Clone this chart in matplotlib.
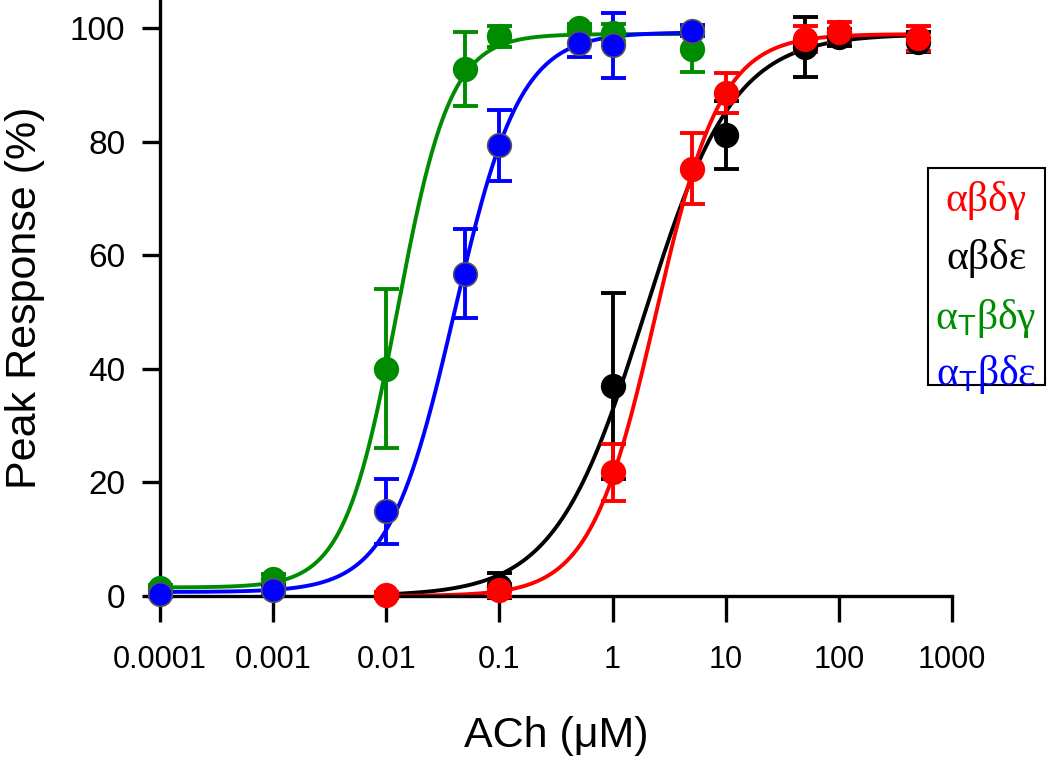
import numpy as np
import matplotlib
matplotlib.use("Agg")
import matplotlib.pyplot as plt
from matplotlib.patches import Rectangle

plt.rcParams["font.family"] = ["Liberation Sans", "DejaVu Sans"]
plt.rcParams["mathtext.fontset"] = "custom"
plt.rcParams["mathtext.rm"] = "Liberation Sans"

# --- data (ACh in uM, response in %) ---
ab_dg_x = [0.01, 0.1, 1, 5, 10, 50, 100, 500]
ab_dg_y = [0.2, 1.0, 21.8, 75.3, 88.6, 98.2, 99.4, 98.3]
ab_dg_err = [0.5, 1.2, 5.0, 6.2, 3.5, 2.3, 1.8, 2.2]

ab_de_x = [0.1, 1, 10, 50, 100, 500]
ab_de_y = [1.8, 37.0, 81.2, 96.7, 98.4, 97.6]
ab_de_err = [2.2, 16.4, 6.0, 5.3, 1.5, 1.8]

aT_dg_x = [0.0001, 0.001, 0.01, 0.05, 0.1, 0.5, 1, 5]
aT_dg_y = [1.4, 3.0, 40.0, 92.9, 98.6, 100.0, 99.2, 96.3]
aT_dg_err = [0.6, 0.8, 14.0, 6.5, 1.8, 0.8, 1.5, 4.0]

aT_de_x = [0.0001, 0.001, 0.01, 0.05, 0.1, 0.5, 1, 5]
aT_de_y = [0.4, 1.1, 14.9, 56.8, 79.4, 97.5, 97.0, 99.6]
aT_de_err = [0.5, 0.6, 5.7, 7.8, 6.2, 2.5, 5.7, 1.0]

# Hill fit parameters: bottom, top, EC50 (uM), slope, curve start, curve end
fit_ab_dg = (0.0, 99.0, 2.4, 1.5, 0.01, 500)
fit_ab_de = (0.0, 99.0, 1.9, 1.1, 0.01, 500)
fit_aT_dg = (1.5, 99.0, 0.0125, 1.85, 0.0001, 5)
fit_aT_de = (0.7, 99.3, 0.04, 1.5, 0.0001, 5)

labels = ["αβδγ", "αβδε", "α$_{\\mathrm{T}}$βδγ", "α$_{\\mathrm{T}}$βδε"]
colors = ["#ff0000", "#000000", "#008c00", "#0000ff"]


def hill(x, bottom, top, ec50, nh):
    return bottom + (top - bottom) / (1 + (ec50 / x) ** nh)


fig = plt.figure(figsize=(10.5, 7.6), dpi=100)
ax = fig.add_axes([160 / 1050, 164 / 760, 792 / 1050, 596 / 760])

series = [
    (ab_de_x, ab_de_y, ab_de_err, fit_ab_de, colors[1], colors[1]),
    (ab_dg_x, ab_dg_y, ab_dg_err, fit_ab_dg, colors[0], colors[0]),
    (aT_dg_x, aT_dg_y, aT_dg_err, fit_aT_dg, colors[2], colors[2]),
    (aT_de_x, aT_de_y, aT_de_err, fit_aT_de, colors[3], "#555555"),
]

for x, y, err, fit, c, edge in series:
    b, t, ec, nh, x0, x1 = fit
    xs = np.logspace(np.log10(x0), np.log10(x1), 300)
    ax.plot(xs, hill(xs, b, t, ec, nh), color=c, lw=2.8, clip_on=False, zorder=2)
    ax.errorbar(x, y, yerr=err, fmt="none", ecolor=c, elinewidth=2.8,
                capsize=9, capthick=2.8, clip_on=False, zorder=3)
    ax.plot(x, y, "o", color=c, ms=17, mec=edge, mew=1.2,
            clip_on=False, zorder=4)

ax.set_xscale("log")
ax.set_xlim(0.0001, 1000)
ax.set_ylim(0, 105)
ax.set_xticks([0.0001, 0.001, 0.01, 0.1, 1, 10, 100, 1000])
ax.set_xticklabels(["0.0001", "0.001", "0.01", "0.1", "1", "10", "100", "1000"])
ax.xaxis.set_minor_locator(matplotlib.ticker.NullLocator())
ax.set_yticks([0, 20, 40, 60, 80, 100])

for side in ["top", "right"]:
    ax.spines[side].set_visible(False)
for side in ["left", "bottom"]:
    ax.spines[side].set_linewidth(2.4)

ax.tick_params(axis="x", length=19, width=2.4, labelsize=22, pad=16)
ax.tick_params(axis="y", length=13, width=2.4, labelsize=24, pad=12)

ax.set_xlabel("ACh (μM)", fontsize=31, labelpad=30)
ax.set_ylabel("Peak Response (%)", fontsize=31, labelpad=18)

# legend box on the right
fig.patches.append(Rectangle((928 / 1050, 1 - 385 / 760), 117 / 1050, 217 / 760,
                             transform=fig.transFigure, fill=False,
                             edgecolor="black", lw=1.5))
rows = [200, 259, 318, 374]
for lab, c, yy in zip(labels, colors, rows):
    fig.text(986 / 1050, 1 - yy / 760, lab, color=c, fontsize=30,
             family=["Liberation Serif", "DejaVu Serif"],
             ha="center", va="center")

fig.savefig("out.png", dpi=100)
